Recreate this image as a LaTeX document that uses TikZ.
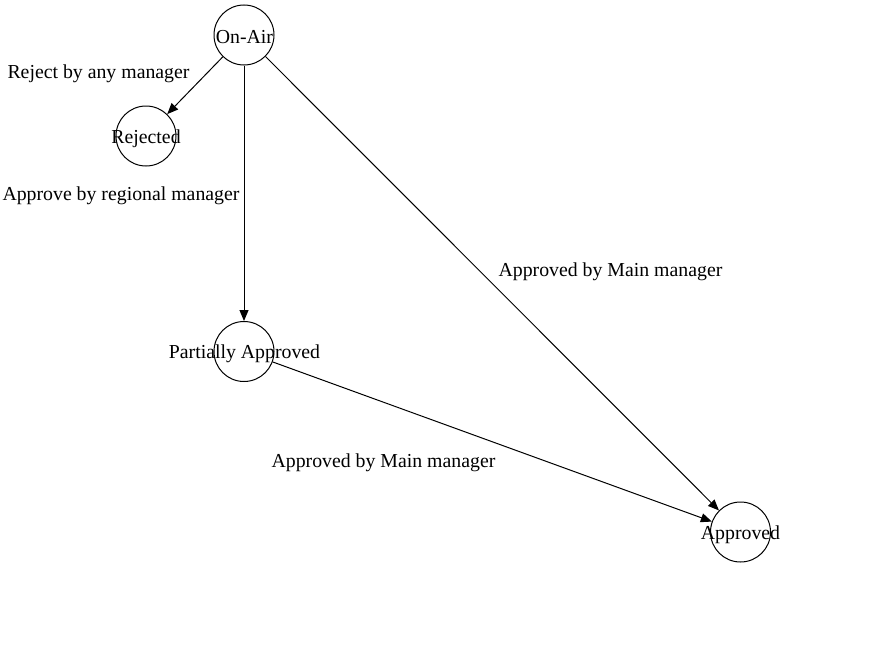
\documentclass[tikz,border=0pt]{standalone}
\usepackage{fontspec}
\setmainfont{Liberation Serif}
\usetikzlibrary{arrows.meta}
\begin{document}
\begin{tikzpicture}[x=1pt,y=-1pt,
  state/.style={circle,draw=black,line width=1pt,minimum size=60pt,inner sep=0pt,font=\fontsize{19.8}{22}\selectfont},
  lbl/.style={inner sep=0pt,font=\fontsize{19.8}{22}\selectfont},
  conn/.style={draw=black,line width=1pt,-{Triangle[length=11pt,width=9pt]}}]
\useasboundingbox (0,0) rectangle (869,669);
\node[state] (onair) at (244,35) {};
\node[state] (rej) at (146,136) {};
\node[state] (part) at (244,351.5) {};
\node[state] (appr) at (740.5,532) {};
\node[lbl] (tonair) at (244.5,37) {On-Air};
\node[lbl] (trej) at (146,138.5) {Rejected};
\node[lbl] (tpart) at (244.5,353.5) {Partially Approved};
\node[lbl] (tappr) at (740.5,534.5) {Approved};
\draw[conn] (onair) -- (rej);
\draw[conn] (onair) -- (part);
\draw[conn] (onair) -- (appr);
\draw[conn] (part) -- (appr);
\node[lbl] (l1) at (98.5,74) {Reject by any manager};
\node[lbl] (l2) at (121,196) {Approve by regional manager};
\node[lbl] (l3) at (610.5,272) {Approved by Main manager};
\node[lbl] (l4) at (383.5,463) {Approved by Main manager};
\end{tikzpicture}
\end{document}
